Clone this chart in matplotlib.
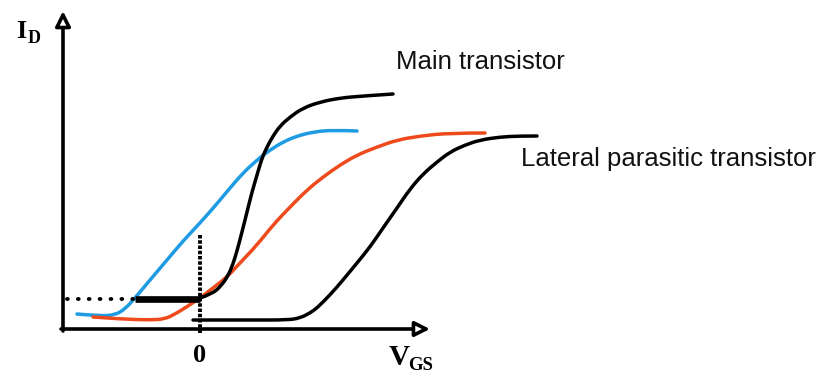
import matplotlib
matplotlib.use("Agg")
import matplotlib.pyplot as plt
from matplotlib.path import Path
from matplotlib.patches import PathPatch

# Schematic I_D(V_GS) curves; coordinates in drawing units (x right, y down)
blue_x = [77, 100, 115, 125, 135, 150, 167, 183, 200, 215, 230, 243, 257, 270, 283, 297, 313, 333, 357]
blue_y = [314, 316, 315, 309, 298, 280, 260, 241, 223, 206, 188, 173, 160, 150, 142, 136, 132, 130, 131]

main_x = [200, 212, 221, 228, 233, 237, 242, 247, 252, 257, 262, 267, 273, 280, 290, 303, 320, 340, 363, 393]
main_y = [298, 294, 286, 276, 264, 251, 232, 212, 192, 175, 158, 147, 136, 126, 117, 108, 102, 98, 96, 94]

plateau_x = [135, 200]
plateau_y = [299, 299]

red_x = [93, 120, 150, 165, 175, 185, 200, 213, 227, 240, 257, 273, 290, 307, 323, 340, 357, 377,
         397, 420, 450, 485]
red_y = [317, 319, 320, 319, 314, 308, 298, 288, 277, 263, 245, 225, 207, 190, 177, 165, 155, 147,
         140, 136, 133, 133]

lat_x = [193, 250, 288, 300, 310, 317, 330, 343, 357, 370, 383, 397, 410, 423, 437, 450, 465, 480,
         500, 520, 537]
lat_y = [320, 320, 320, 318, 313, 308, 295, 280, 263, 247, 228, 208, 189, 174, 162, 152, 145, 140,
         137, 136, 136]

BLUE = "#1e9be3"
RED = "#ee4a1c"


def smooth_path(xs, ys):
    """Quadratic B-spline path using the given points as control points."""
    pts = list(zip(xs, ys))
    verts = [pts[0]]
    codes = [Path.MOVETO]
    for i in range(1, len(pts) - 1):
        nxt = pts[i + 1]
        end = nxt if i + 1 == len(pts) - 1 else ((pts[i][0] + nxt[0]) / 2, (pts[i][1] + nxt[1]) / 2)
        verts += [pts[i], end]
        codes += [Path.CURVE3, Path.CURVE3]
    if len(pts) == 2:
        verts.append(pts[1])
        codes.append(Path.LINETO)
    return Path(verts, codes)


fig = plt.figure(figsize=(8.22, 3.76), dpi=100)
ax = fig.add_axes([0, 0, 1, 1])
ax.set_xlim(0, 822)
ax.set_ylim(376, 0)
ax.axis("off")

# axes with arrow heads
arrow_kw = dict(arrowstyle="-|>,head_length=0.9,head_width=0.45", lw=2.6,
                ec="black", fc="white", shrinkA=0, shrinkB=0)
ax.annotate("", xy=(63, 11), xytext=(63, 331), arrowprops=arrow_kw)
ax.annotate("", xy=(430, 329), xytext=(61, 329), arrowprops=arrow_kw)

# reference dotted lines
ax.plot([67, 133], [299, 299], color="black", lw=2.8, ls=(0, (0.2, 2.6)),
        dash_capstyle="round")
ax.plot([200, 200], [235, 333], color="black", lw=2.8, ls=(0, (0.9, 0.45)))

# curves
for xs, ys, col in [(blue_x, blue_y, BLUE), (red_x, red_y, RED),
                    (main_x, main_y, "black"), (lat_x, lat_y, "black")]:
    ax.add_patch(PathPatch(smooth_path(xs, ys), fill=False, edgecolor=col, lw=2.5,
                           capstyle="round", joinstyle="round"))
ax.plot(plateau_x, plateau_y, color="black", lw=4.8, solid_capstyle="butt")

# labels
serif = "Liberation Serif"
ax.text(16, 38, "I", fontsize=19, fontweight="bold", family=serif, ha="left", va="baseline")
ax.text(28, 43, "D", fontsize=13, fontweight="bold", family=serif, ha="left", va="baseline")
ax.text(200, 362, "0", fontsize=19, fontweight="bold", family=serif, ha="center", va="baseline")
ax.text(389, 365, "V", fontsize=21, fontweight="bold", family=serif, ha="left", va="baseline")
ax.text(408, 370, "GS", fontsize=13.5, fontweight="bold", family=serif, ha="left", va="baseline")

sans = "Liberation Sans"
ax.text(396, 69, "Main transistor", fontsize=18.5, family=sans, color="#111111",
        ha="left", va="baseline")
ax.text(521, 166, "Lateral parasitic transistor", fontsize=18.5, family=sans, color="#111111",
        ha="left", va="baseline")

fig.savefig("out.png", dpi=100)
